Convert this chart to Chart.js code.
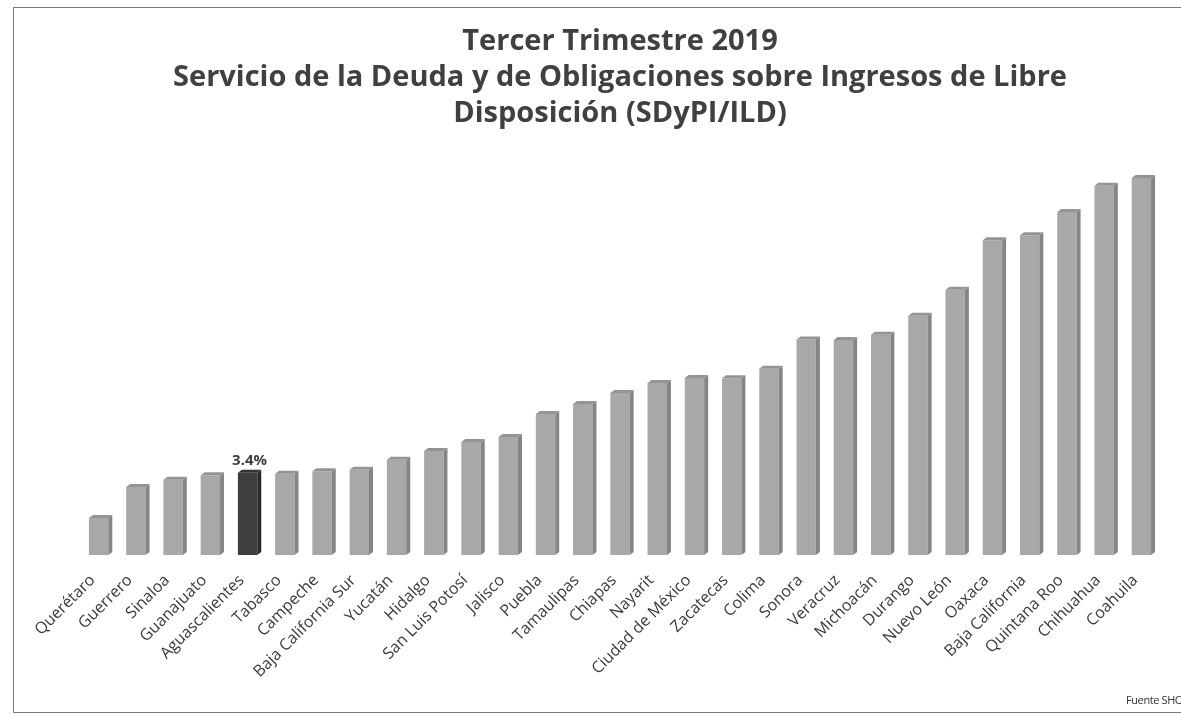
<!DOCTYPE html>
<html>
<head>
<meta charset="utf-8">
<script src="https://cdn.jsdelivr.net/npm/chart.js@4"></script>
<style>
    html, body { margin: 0; padding: 0; background: #fff; }
    #wrap { position: relative; width: 1181px; height: 714px; overflow: hidden; }
    #frame {
        position: absolute; left: 13px; top: 7px; width: 1200px; height: 704px;
        border: 1px solid #7a7a7a; pointer-events: none;
    }
    #source {
        position: absolute; left: 1126px; top: 692px; white-space: nowrap;
        font: 11px "Open Sans", sans-serif; letter-spacing: -0.4px; color: #333;
    }
</style>
</head>
<body>
<div id="wrap">
    <canvas id="sdypiChart" width="1181" height="714"></canvas>
    <div id="frame"></div>
    <div id="source">Fuente SHCP</div>
</div>
<script>
// Data
const states = [
    'Querétaro', 'Guerrero', 'Sinaloa', 'Guanajuato', 'Aguascalientes', 'Tabasco',
    'Campeche', 'Baja California Sur', 'Yucatán', 'Hidalgo', 'San Luis Potosí',
    'Jalisco', 'Puebla', 'Tamaulipas', 'Chiapas', 'Nayarit', 'Ciudad de México',
    'Zacatecas', 'Colima', 'Sonora', 'Veracruz', 'Michoacán', 'Durango',
    'Nuevo León', 'Oaxaca', 'Baja California', 'Quintana Roo', 'Chihuahua', 'Coahuila'
];
const sdypiValues = [
    1.53, 2.81, 3.11, 3.29, 3.4, 3.36,
    3.46, 3.52, 3.93, 4.30, 4.67,
    4.88, 5.83, 6.24, 6.69, 7.11, 7.31,
    7.30, 7.69, 8.90, 8.88, 9.10, 9.88,
    10.96, 13.00, 13.21, 14.17, 15.25, 15.58
];
const highlightState = 'Aguascalientes';
const titleLines = [
    'Tercer Trimestre 2019',
    'Servicio de la Deuda y de Obligaciones sobre Ingresos de Libre',
    'Disposición (SDyPI/ILD)'
];

const barColor = '#a8a8a8';
const barSide = '#858585';
const barTop = '#949494';
const hiColor = '#3e3e3e';
const hiSide = '#2a2a2a';
const hiTop = '#333333';

const hiIndex = states.indexOf(highlightState);

// Fake 3D: side + top faces from each bar element
const bar3d = {
    id: 'bar3d',
    afterDatasetsDraw(chart) {
        const ctx = chart.ctx;
        const meta = chart.getDatasetMeta(0);
        const d = 4, dy = 3;
        meta.data.forEach((bar, i) => {
            const { x, y, base, width } = bar.getProps(['x', 'y', 'base', 'width'], true);
            const l = x - width / 2, r = x + width / 2;
            ctx.save();
            ctx.fillStyle = i === hiIndex ? hiSide : barSide;
            ctx.beginPath();
            ctx.moveTo(r, y);
            ctx.lineTo(r + d, y - dy);
            ctx.lineTo(r + d, base - dy);
            ctx.lineTo(r, base);
            ctx.closePath();
            ctx.fill();
            ctx.fillStyle = i === hiIndex ? hiTop : barTop;
            ctx.beginPath();
            ctx.moveTo(l, y);
            ctx.lineTo(l + d, y - dy);
            ctx.lineTo(r + d, y - dy);
            ctx.lineTo(r, y);
            ctx.closePath();
            ctx.fill();
            ctx.restore();
        });
    }
};

// Value label over the highlighted bar
const hiLabel = {
    id: 'hiLabel',
    afterDraw(chart) {
        const ctx = chart.ctx;
        const bar = chart.getDatasetMeta(0).data[hiIndex];
        if (!bar) return;
        ctx.save();
        ctx.font = 'bold 15px "Open Sans", sans-serif';
        ctx.fillStyle = '#404040';
        ctx.textAlign = 'center';
        ctx.textBaseline = 'bottom';
        ctx.fillText(sdypiValues[hiIndex].toFixed(1) + '%', bar.x + 2, bar.y - 4);
        ctx.restore();
    }
};

const ctx = document.getElementById('sdypiChart').getContext('2d');
new Chart(ctx, {
    type: 'bar',
    data: {
        labels: states,
        datasets: [{
            data: sdypiValues,
            backgroundColor: states.map((s, i) => i === hiIndex ? hiColor : barColor),
            borderWidth: 0,
            barPercentage: 0.52,
            categoryPercentage: 1
        }]
    },
    options: {
        responsive: false,
        animation: false,
        layout: {
            padding: { left: 80, right: 21, top: 0, bottom: 0 }
        },
        plugins: {
            legend: { display: false },
            tooltip: { enabled: false },
            title: {
                display: true,
                text: titleLines,
                color: '#404040',
                font: { family: 'Open Sans', size: 29, weight: 'bold', lineHeight: 1.24 },
                padding: { top: 24, bottom: 8 }
            }
        },
        scales: {
            x: {
                grid: { display: false },
                border: { display: false },
                ticks: {
                    color: '#3a3a3a',
                    font: { family: 'Open Sans', size: 16 },
                    maxRotation: 45,
                    minRotation: 45,
                    autoSkip: false,
                    padding: 8,
                    labelOffset: -6
                },
                afterFit(scale) {
                    scale.height = 159;
                }
            },
            y: {
                display: false,
                min: 0,
                max: 17.15
            }
        }
    },
    plugins: [bar3d, hiLabel]
});
</script>
</body>
</html>
